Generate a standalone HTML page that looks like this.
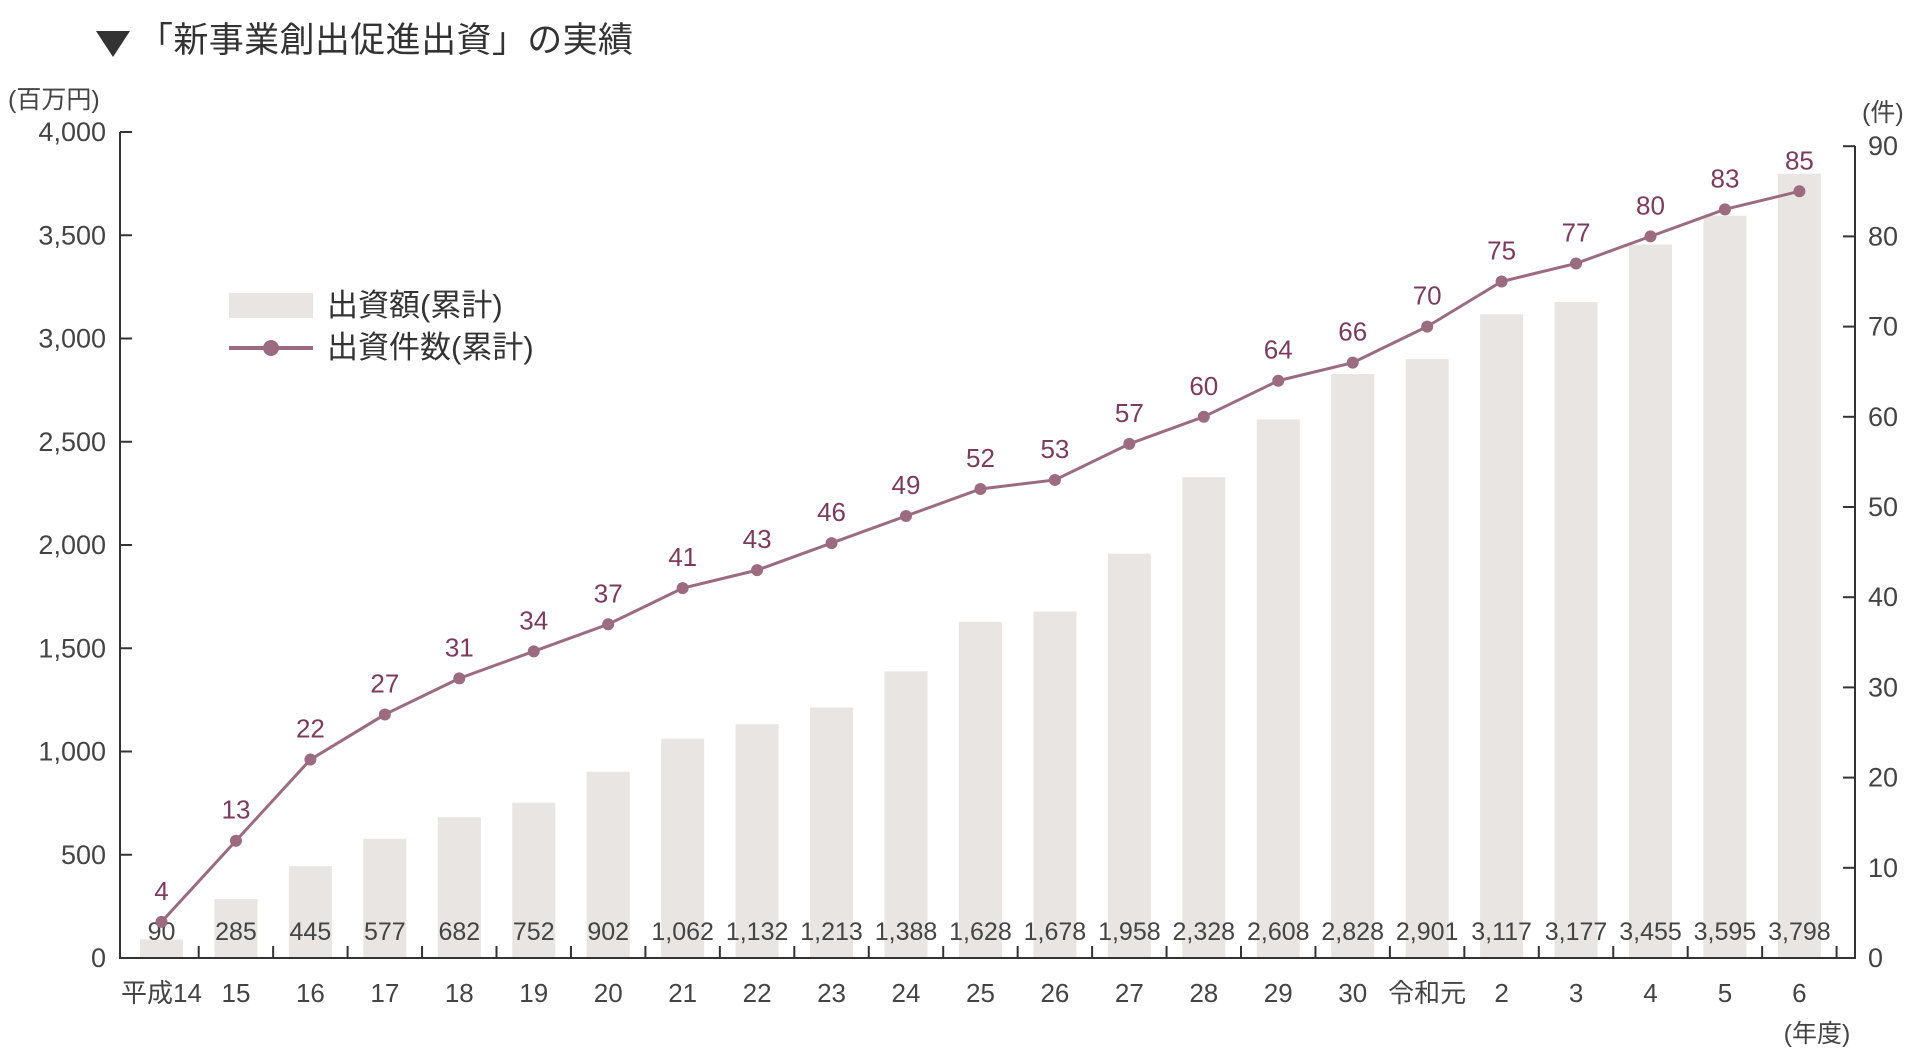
<!DOCTYPE html>
<html><head><meta charset="utf-8"><style>
body{margin:0;background:#fff}
svg{display:block}
text{font-family:"Liberation Sans","Noto Sans CJK JP",sans-serif}
</style></head><body>
<svg width="1920" height="1060" xmlns="http://www.w3.org/2000/svg">
<polygon points="96,31 130,31 113,57" fill="#333"/>
<text x="138" y="52" font-size="35" fill="#333" textLength="495">「新事業創出促進出資」の実績</text>
<text x="8" y="108" font-size="25" fill="#444">(百万円)</text>
<text x="1862" y="121" font-size="25" fill="#444">(件)</text>
<g id="bars" fill="#e8e5e2"></g>
<g id="axes" stroke="#333" stroke-width="2" fill="none"></g>
<g id="ylab" font-size="27" fill="#444" text-anchor="end"></g>
<g id="rlab" font-size="27" fill="#444"></g>
<g id="vlab" font-size="25" fill="#444" text-anchor="middle"></g>
<g id="xlab" font-size="26" fill="#444" text-anchor="middle"></g>
<polyline id="line" fill="none" stroke="#9b6b80" stroke-width="3"/>
<g id="pts" fill="#9b6b80"></g>
<g id="clab" font-size="26" fill="#7b3b5e" text-anchor="middle"></g>
<text x="1817" y="1042" font-size="25" fill="#444" text-anchor="middle">(年度)</text>
<rect x="229" y="293" width="84" height="25" fill="#e8e5e2"/>
<line x1="229" y1="348" x2="313" y2="348" stroke="#9b6b80" stroke-width="4"/>
<circle cx="271" cy="348" r="8" fill="#9b6b80"/>
<text x="327" y="316" font-size="31" fill="#333">出資額(累計)</text>
<text x="327" y="358" font-size="31" fill="#333">出資件数(累計)</text>
</svg>
<script>
const ns="http://www.w3.org/2000/svg";
function el(p,t,a,txt){const e=document.createElementNS(ns,t);for(const k in a)e.setAttribute(k,a[k]);if(txt!==undefined)e.textContent=txt;document.getElementById(p).appendChild(e);return e;}
const v=[90,285,445,577,682,752,902,1062,1132,1213,1388,1628,1678,1958,2328,2608,2828,2901,3117,3177,3455,3595,3798];
const c=[4,13,22,27,31,34,37,41,43,46,49,52,53,57,60,64,66,70,75,77,80,83,85];
const xl=["平成14","15","16","17","18","19","20","21","22","23","24","25","26","27","28","29","30","令和元","2","3","4","5","6"];
const X=i=>161.5+74.45*i, B=958;
let pts=[];
v.forEach((val,i)=>{
 const h=val*826/4000;
 el("bars","rect",{x:X(i)-21.5,y:B-h,width:43,height:h});
 el("vlab","text",{x:X(i),y:940},val.toLocaleString("en-US"));
 el("xlab","text",{x:X(i),y:1002},xl[i]);
 const cy=B-c[i]*9.02;
 pts.push(X(i)+","+cy);
 el("pts","circle",{cx:X(i),cy:cy,r:6});
 el("clab","text",{x:X(i),y:cy-22},c[i]);
 el("axes","line",{x1:X(i)+37.2,y1:B,x2:X(i)+37.2,y2:B-12});
});
document.getElementById("line").setAttribute("points",pts.join(" "));
el("axes","polyline",{points:"120,132 120,958 1855,958 1855,146"});
for(let k=0;k<=8;k++){const y=958-k*826/8;el("axes","line",{x1:120,y1:y,x2:132,y2:y});el("ylab","text",{x:106,y:y+9},(k*500).toLocaleString("en-US"));}
for(let k=0;k<=9;k++){const y=958-k*90.2;el("axes","line",{x1:1843,y1:y,x2:1855,y2:y});el("rlab","text",{x:1868,y:y+9},k*10);}
</script>
</body></html>
